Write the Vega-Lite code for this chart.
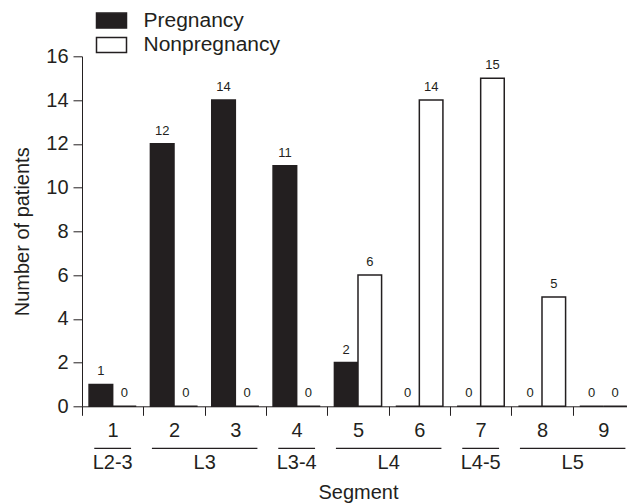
{
  "$schema": "https://vega.github.io/schema/vega-lite/v6.json",
  "padding": {"left": 12, "top": 9.3, "right": 0, "bottom": 0},
  "spacing": 6,
  "config": {
    "font": "Liberation Sans",
    "view": {"stroke": null},
    "axis": {
      "domainColor": "#231f20",
      "tickColor": "#231f20",
      "labelColor": "#231f20",
      "titleColor": "#231f20",
      "titleFontWeight": "normal",
      "grid": false
    }
  },
  "datasets": {
    "counts": [
      {"segment": "1", "series": "Pregnancy", "patients": 1},
      {"segment": "1", "series": "Nonpregnancy", "patients": 0},
      {"segment": "2", "series": "Pregnancy", "patients": 12},
      {"segment": "2", "series": "Nonpregnancy", "patients": 0},
      {"segment": "3", "series": "Pregnancy", "patients": 14},
      {"segment": "3", "series": "Nonpregnancy", "patients": 0},
      {"segment": "4", "series": "Pregnancy", "patients": 11},
      {"segment": "4", "series": "Nonpregnancy", "patients": 0},
      {"segment": "5", "series": "Pregnancy", "patients": 2},
      {"segment": "5", "series": "Nonpregnancy", "patients": 6},
      {"segment": "6", "series": "Pregnancy", "patients": 0},
      {"segment": "6", "series": "Nonpregnancy", "patients": 14},
      {"segment": "7", "series": "Pregnancy", "patients": 0},
      {"segment": "7", "series": "Nonpregnancy", "patients": 15},
      {"segment": "8", "series": "Pregnancy", "patients": 0},
      {"segment": "8", "series": "Nonpregnancy", "patients": 5},
      {"segment": "9", "series": "Pregnancy", "patients": 0},
      {"segment": "9", "series": "Nonpregnancy", "patients": 0}
    ],
    "groups": [
      {"group": "L2-3", "from": "1", "to": "1"},
      {"group": "L3", "from": "2", "to": "3"},
      {"group": "L3-4", "from": "4", "to": "4"},
      {"group": "L4", "from": "5", "to": "6"},
      {"group": "L4-5", "from": "7", "to": "7"},
      {"group": "L5", "from": "8", "to": "9"}
    ]
  },
  "vconcat": [
    {
      "width": 552,
      "height": 350,
      "data": {"name": "counts"},
      "encoding": {
        "x": {
          "field": "segment", "type": "nominal",
          "scale": {"domain": ["1","2","3","4","5","6","7","8","9"], "paddingInner": 0, "paddingOuter": 0},
          "axis": {"title": null, "labelAngle": 0, "labelFontSize": 20, "tickBand": "extent", "tickSize": 9, "labelPadding": 5.5}
        },
        "xOffset": {
          "field": "series", "type": "nominal",
          "scale": {"domain": ["Pregnancy", "Nonpregnancy"], "paddingInner": 0, "paddingOuter": 0.3}
        },
        "y": {
          "field": "patients", "type": "quantitative",
          "scale": {"domain": [0, 16], "nice": false},
          "axis": {"title": "Number of patients", "values": [0,2,4,6,8,10,12,14,16], "labelFontSize": 20, "titleFontSize": 20, "tickSize": 9, "labelPadding": 5, "titlePadding": 13}
        }
      },
      "layer": [
        {
          "mark": {"type": "bar", "stroke": "#231f20", "strokeWidth": 1.5},
          "encoding": {
            "color": {
              "field": "series", "type": "nominal",
              "scale": {"domain": ["Pregnancy", "Nonpregnancy"], "range": ["#231f20", "#ffffff"]},
              "legend": {
                "title": null, "orient": "none", "legendX": 19, "legendY": -46.2,
                "symbolType": "M-2,-1H2V1H-2Z", "symbolSize": 225,
                "symbolStrokeColor": "#231f20", "symbolStrokeWidth": 1.5,
                "labelFontSize": 21, "labelOffset": 21.5, "rowPadding": 2.5,
                "labelColor": "#231f20", "padding": 0
              }
            }
          }
        },
        {
          "mark": {"type": "text", "baseline": "alphabetic", "dy": -9, "fontSize": 13, "color": "#231f20"},
          "encoding": {"text": {"field": "patients", "type": "quantitative"}}
        }
      ]
    },
    {
      "width": 552,
      "height": 14.5,
      "data": {"name": "groups"},
      "layer": [
        {
          "transform": [{"filter": "datum.from == datum.to"}],
          "mark": {"type": "rule", "color": "#231f20", "strokeWidth": 1.2},
          "encoding": {
            "x": {"field": "from", "type": "nominal", "bandPosition": 0.2,
              "scale": {"domain": ["1","2","3","4","5","6","7","8","9"], "paddingInner": 0, "paddingOuter": 0},
              "axis": {"title": "Segment", "labels": false, "ticks": false, "domain": false, "titleFontSize": 20, "titlePadding": 20}},
            "x2": {"field": "to", "bandPosition": 0.8},
            "y": {"datum": 1, "type": "quantitative", "scale": {"domain": [0, 1], "nice": false}, "axis": null}
          }
        },
        {
          "transform": [{"filter": "datum.from != datum.to"}],
          "mark": {"type": "rule", "color": "#231f20", "strokeWidth": 1.2},
          "encoding": {
            "x": {"field": "from", "type": "nominal", "bandPosition": 0.14,
              "axis": {"title": "Segment", "labels": false, "ticks": false, "domain": false, "titleFontSize": 20, "titlePadding": 20}},
            "x2": {"field": "to", "bandPosition": 0.86},
            "y": {"datum": 1, "type": "quantitative"}
          }
        },
        {
          "transform": [{"filter": "datum.from == datum.to"}],
          "mark": {"type": "text", "fontSize": 20, "baseline": "middle", "color": "#231f20"},
          "encoding": {
            "x": {"field": "from", "type": "nominal", "bandPosition": 0.5,
              "axis": {"title": "Segment", "labels": false, "ticks": false, "domain": false, "titleFontSize": 20, "titlePadding": 20}},
            "y": {"datum": 0, "type": "quantitative"},
            "text": {"field": "group", "type": "nominal"}
          }
        },
        {
          "transform": [{"filter": "datum.from != datum.to"}],
          "mark": {"type": "text", "fontSize": 20, "baseline": "middle", "color": "#231f20"},
          "encoding": {
            "x": {"field": "to", "type": "nominal", "bandPosition": 0,
              "axis": {"title": "Segment", "labels": false, "ticks": false, "domain": false, "titleFontSize": 20, "titlePadding": 20}},
            "y": {"datum": 0, "type": "quantitative"},
            "text": {"field": "group", "type": "nominal"}
          }
        }
      ]
    }
  ]
}
